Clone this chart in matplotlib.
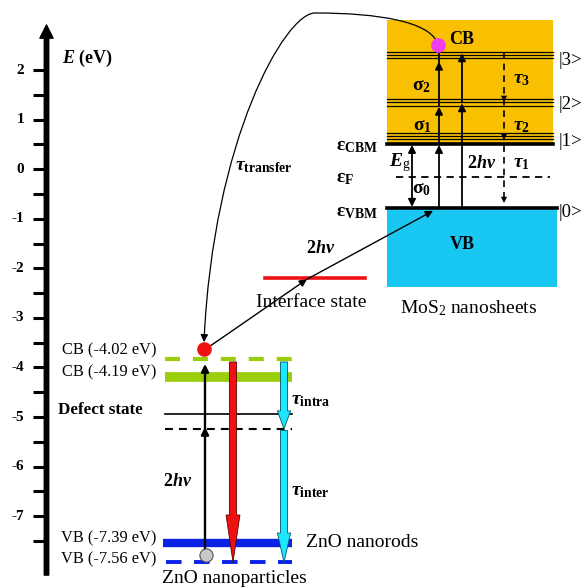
import matplotlib
matplotlib.use('Agg')
import matplotlib.pyplot as plt
from matplotlib.patches import Rectangle, FancyArrowPatch
from matplotlib.path import Path

plt.rcParams['font.family'] = 'Liberation Serif'
plt.rcParams['mathtext.fontset'] = 'custom'
plt.rcParams['mathtext.rm'] = 'Liberation Serif'
plt.rcParams['mathtext.it'] = 'Liberation Serif:italic'
plt.rcParams['mathtext.bf'] = 'Liberation Serif:bold'
plt.rcParams['mathtext.bfit'] = 'Liberation Serif:bold:italic'

# energy axis (eV)
major_ticks = [2, 1, 0, -1, -2, -3, -4, -5, -6, -7]
minor_ticks = [1.5, 0.5, -0.5, -1.5, -2.5, -3.5, -4.5, -5.5, -6.5, -7.5]

# MoS2 nanosheets levels, as drawn (eV)
mos2_cb_top = 3.01
mos2_cbm = 0.50
mos2_fermi = -0.16
mos2_vbm = -0.78
mos2_vb_bottom = -2.38
state1 = [0.73, 0.67, 0.61]
state2 = [1.42, 1.35, 1.28]
state3 = [2.36, 2.30, 2.24]
state_names = ['|0>', '|1>', '|2>', '|3>']

# interface state
interface_level = -2.20

# ZnO levels, as drawn (eV)
zno_cb_particles = -3.83
zno_cb_rods = -4.19
zno_defect = -4.94
zno_defect2 = -5.24
zno_vb_rods = -7.54
zno_vb_particles = -7.93
zno_labels = ['CB (-4.02 eV)', 'CB (-4.19 eV)', 'VB (-7.39 eV)', 'VB (-7.56 eV)']

ORANGE = '#F8C000'
CYAN = '#18C8F2'
GREEN = '#9ACD0A'
BLUE = '#0A22E6'

fig = plt.figure(figsize=(5.86, 5.87), dpi=100)
ax = fig.add_axes([0, 0, 1, 1])
ax.set_xlim(0, 586)
ax.set_ylim(-8.43, 3.414)
ax.axis('off')


def arrow(x0, y0, x1, y1, style='-|>', lw=1.2, ms=11, color='k', z=5):
    ax.annotate('', xy=(x1, y1), xytext=(x0, y0),
                arrowprops=dict(arrowstyle=style, color=color, lw=lw,
                                mutation_scale=ms, shrinkA=0, shrinkB=0),
                zorder=z)


def fat_arrow(x, y0, y1, hl, hw, tw, fc, ec):
    ax.add_patch(FancyArrowPatch((x, y0), (x, y1),
                                 arrowstyle=f'simple,head_length={hl},head_width={hw},tail_width={tw}',
                                 mutation_scale=1, fc=fc, ec=ec, lw=0.6,
                                 shrinkA=0, shrinkB=0, zorder=4))


# ---- energy axis
ax.add_patch(FancyArrowPatch((46.5, -8.19), (46.5, 2.91),
                             arrowstyle='simple,head_length=9.5,head_width=9.5,tail_width=3.2',
                             mutation_scale=1, color='k', shrinkA=0, shrinkB=0))
for t in major_ticks + minor_ticks:
    ax.plot([33, 46], [t, t], color='k', lw=2.2, solid_capstyle='butt')
for t in major_ticks:
    ax.text(24, t, str(t), ha='right', va='center', fontsize=11, fontweight='bold')
ax.text(62, 2.24, r'$\mathbfit{E}$ (eV)', ha='left', va='center', fontsize=13, fontweight='bold')

# ---- MoS2 nanosheets
ax.add_patch(Rectangle((387, mos2_cbm), 166, mos2_cb_top - mos2_cbm, color=ORANGE, lw=0, zorder=1))
ax.add_patch(Rectangle((387, mos2_vb_bottom), 170, mos2_vbm - mos2_vb_bottom, color=CYAN, lw=0, zorder=1))
for e in state1 + state2 + state3:
    ax.plot([387, 553], [e, e], color='k', lw=0.9, zorder=2)
ax.plot([387, 553], [mos2_cbm, mos2_cbm], color='k', lw=2.6, zorder=3)
ax.plot([387, 557], [mos2_vbm, mos2_vbm], color='k', lw=2.6, zorder=3)
ax.plot([396, 550], [mos2_fermi, mos2_fermi], color='k', lw=1.3, ls=(0, (4, 3)), zorder=2)

state_y = [mos2_vbm - 0.09, state1[1] - 0.12, state2[1] - 0.04, state3[1] - 0.1]
for name, y in zip(state_names, state_y):
    ax.text(559, y, name, ha='left', va='center', fontsize=13.5)

# sigma absorption path
sx = 439
arrow(sx, mos2_vbm, sx, mos2_cbm - 0.01, lw=1.3)
arrow(sx, mos2_cbm, sx, state2[2] - 0.02, lw=1.3)
arrow(sx, state2[2], sx, state3[2] - 0.07, lw=1.3)
ax.plot([sx, sx], [state3[2] - 0.07, 2.5], color='k', lw=1.3)
# two-photon path
hx = 462
arrow(hx, mos2_vbm, hx, state2[1] - 0.02, lw=1.3)
arrow(hx, state2[1], hx, state3[0] - 0.02, lw=1.3)
# relaxation path (dashed)
tx = 504
ax.plot([tx, tx], [state3[0], mos2_vbm + 0.1], color='k', lw=1.2, ls=(0, (4, 3)))
for y in [state2[0] - 0.06, state1[0] - 0.14, mos2_vbm + 0.1]:
    arrow(tx, y + 0.25, tx, y, ms=11, lw=0.01)
# band gap
arrow(412, mos2_cbm - 0.01, 412, mos2_vbm + 0.02, style='<|-|>', lw=1.3)

ax.plot([438], [2.51], 'o', color='#F23CF2', ms=9.5, zorder=8)
ax.text(462, 2.61, 'CB', ha='center', va='center', fontsize=13, fontweight='bold')
ax.text(462, -1.51, 'VB', ha='center', va='center', fontsize=13, fontweight='bold')
ax.text(469, -2.80, r'MoS$_2$ nanosheets', ha='center', va='center', fontsize=14)

ax.text(336, 0.45, r'$\mathbf{ε}_{\mathbf{CBM}}$', ha='left', va='center', fontsize=14)
ax.text(336, -0.18, r'$\mathbf{ε}_{\mathbf{F}}$', ha='left', va='center', fontsize=14)
ax.text(336, -0.865, r'$\mathbf{ε}_{\mathbf{VBM}}$', ha='left', va='center', fontsize=14)
ax.text(389, 0.13, r'$\mathbfit{E}_{\mathrm{g}}$', ha='left', va='center', fontsize=14)
ax.text(422, -0.41, r'$\mathbf{σ}_{\mathbf{0}}$', ha='center', va='center', fontsize=14)
ax.text(422, 0.87, r'$\mathbf{σ}_{\mathbf{1}}$', ha='center', va='center', fontsize=14)
ax.text(422, 1.68, r'$\mathbf{σ}_{\mathbf{2}}$', ha='center', va='center', fontsize=14)
ax.text(482, 0.11, r'$\mathbf{2}\mathbfit{hν}$', ha='center', va='center', fontsize=13)
ax.text(521, 0.11, r'$\mathbfit{τ}_{\mathbf{1}}$', ha='center', va='center', fontsize=14)
ax.text(522, 0.87, r'$\mathbfit{τ}_{\mathbf{2}}$', ha='center', va='center', fontsize=14)
ax.text(522, 1.80, r'$\mathbfit{τ}_{\mathbf{3}}$', ha='center', va='center', fontsize=14)

# ---- interface state
ax.plot([265, 365], [interface_level, interface_level], color='#EE1111', lw=2.6)
ax.text(311, -2.68, 'Interface state', ha='center', va='center', fontsize=14)
ax.text(321, -1.59, r'$\mathbf{2}\mathbfit{hν}$', ha='center', va='center', fontsize=13)
arrow(210, -3.57, 307, interface_level - 0.02, lw=1.0)
arrow(307, interface_level - 0.02, 433, mos2_vbm - 0.06, lw=1.0)

# ---- transfer curve
verts = [(437, 2.567), (428, 2.97), (380, 3.152), (315, 3.152),
         (285, 3.152), (213, 0.589), (204, -3.49)]
codes = [Path.MOVETO] + [Path.CURVE4] * 6
ax.add_patch(FancyArrowPatch(path=Path(verts, codes), arrowstyle='-|>',
                             mutation_scale=11, color='k', lw=0.9, zorder=6))
ax.text(235, 0.045, r'$\mathbfit{τ}_{\mathbf{transfer}}$', ha='left', va='center', fontsize=14)

# ---- ZnO
ax.plot([165, 292], [zno_cb_particles] * 2, color=GREEN, lw=3, ls=(0, (3.6, 3.1)))
ax.plot([165, 292], [zno_cb_rods] * 2, color=GREEN, lw=7, solid_capstyle='butt')
ax.plot([165, 292], [zno_defect] * 2, color='k', lw=1.2)
ax.plot([165, 292], [zno_defect2] * 2, color='k', lw=1.5, ls=(0, (3.8, 2.9)))
ax.plot([163, 292], [zno_vb_rods] * 2, color=BLUE, lw=6, solid_capstyle='butt')
ax.plot([166, 292], [zno_vb_particles] * 2, color=BLUE, lw=2.8, ls=(0, (4, 3.2)))

for lab, y in zip(zno_labels, [-3.65, -4.09, -7.44, -7.88]):
    ax.text(156, y, lab, ha='right', va='center', fontsize=11.8)
ax.text(58, -4.86, 'Defect state', ha='left', va='center', fontsize=12.3, fontweight='bold')

arrow(205, -7.78, 205, zno_defect2 + 0.04, lw=1.7)
arrow(205, zno_defect2, 205, zno_cb_particles - 0.1, lw=1.7)
ax.plot([206], [-7.79], 'o', color='#C8C8C8', mec='#555555', mew=0.8, ms=9.5, zorder=6)
ax.plot([204], [-3.63], 'o', color='#EE1111', ms=9.5, zorder=8)
ax.text(178, -6.31, r'$\mathbf{2}\mathbfit{hν}$', ha='center', va='center', fontsize=13)

fat_arrow(233, -3.89, zno_vb_particles, 34, 10, 5.2, '#EE1111', '#660000')
fat_arrow(284, -3.89, zno_defect2, 13, 9.5, 5, '#1FE6FF', '#005566')
fat_arrow(284, zno_defect2 - 0.03, zno_vb_particles, 21, 9.5, 5, '#1FE6FF', '#005566')
ax.text(291, -4.66, r'$\mathbfit{τ}_{\mathbf{intra}}$', ha='left', va='center', fontsize=14)
ax.text(291, -6.51, r'$\mathbfit{τ}_{\mathbf{inter}}$', ha='left', va='center', fontsize=14)
ax.text(306, -7.54, 'ZnO nanorods', ha='left', va='center', fontsize=14)
ax.text(234, -8.25, 'ZnO nanoparticles', ha='center', va='center', fontsize=14)

fig.savefig('out.png', dpi=100)
